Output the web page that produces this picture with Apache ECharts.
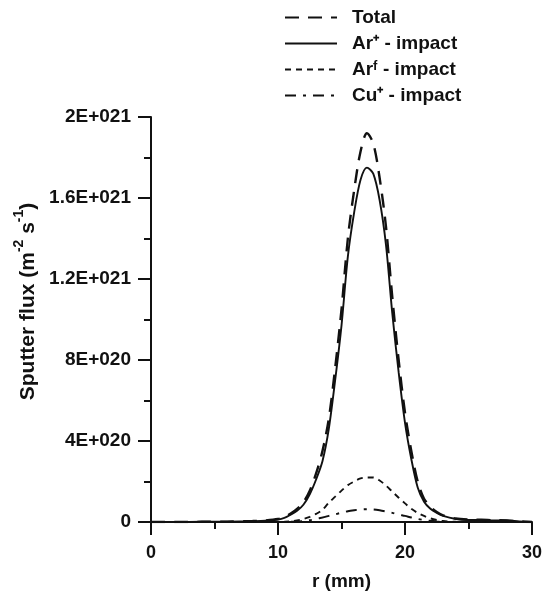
<!DOCTYPE html>
<html>
<head>
<meta charset="utf-8">
<script src="https://cdn.jsdelivr.net/npm/echarts@6/dist/echarts.min.js"></script>
<style>html,body{margin:0;padding:0;background:#fff;}#chart{width:546px;height:592px;}</style>
</head>
<body>
<div id="chart"></div>
<script>
// r positions (mm)
var rValues = [0,2,4,6,8,9,10,10.5,11,11.5,12,12.5,13,13.5,14,14.5,15,15.5,16,16.5,17,17.5,18,18.5,19,19.5,20,20.5,21,21.5,22,22.5,23,24,25,26,27,28,29,30];
// Sputter flux in units of 1E+020 m^-2 s^-1
var totalFlux = [0,0,0.01,0.02,0.05,0.08,0.15,0.25,0.42,0.65,0.98,1.55,2.4,3.5,5.1,7.6,10.5,14.0,16.4,18.3,19.2,18.7,17.0,14.6,11.1,8.0,5.4,3.5,2.0,1.15,0.75,0.5,0.33,0.17,0.12,0.11,0.09,0.08,0.03,0];
var arPlusFlux = [0,0,0.01,0.02,0.04,0.06,0.12,0.2,0.36,0.55,0.85,1.37,2.1,3.0,4.6,7.0,9.7,13.1,15.3,16.9,17.5,17.2,15.9,13.7,10.3,7.4,4.9,3.1,1.7,1.0,0.65,0.45,0.3,0.15,0.1,0.1,0.08,0.08,0.03,0];
var arFastFlux = [0,0,0,0,0,0,0,0.01,0.03,0.08,0.15,0.25,0.4,0.6,0.95,1.25,1.55,1.82,2.0,2.15,2.2,2.2,2.05,1.8,1.5,1.2,0.92,0.65,0.45,0.3,0.18,0.1,0.05,0.01,0,0,0,0,0,0];
var cuPlusFlux = [0,0,0,0,0,0,0,0,0.01,0.02,0.05,0.09,0.15,0.22,0.3,0.38,0.46,0.53,0.58,0.62,0.63,0.62,0.58,0.52,0.45,0.37,0.3,0.22,0.15,0.1,0.06,0.03,0.01,0,0,0,0,0,0,0];
var seriesNames = ['Total', 'Ar\u207A - impact', 'Ar\u1DA0 - impact', 'Cu\u207A - impact'];
var yTickValues = [0,4,8,12,16,20];
var yTickLabels = ['0','4E+020','8E+020','1.2E+021','1.6E+021','2E+021'];
var xTickValues = [0,10,20,30];
var xTickLabels = ['0','10','20','30'];

function pairs(ys){ return rValues.map(function(x,i){ return [x, ys[i]]; }); }

var font = 'Liberation Sans, Arial, sans-serif';
var chart = echarts.init(document.getElementById('chart'), null, {renderer:'canvas'});
var lineStyles = [
  {color:'#111', width:2.4, type:[14,9]},
  {color:'#111', width:1.9, type:'solid'},
  {color:'#111', width:1.9, type:[6,5]},
  {color:'#111', width:1.9, type:[11,7,3,7]}
];
var datas = [totalFlux, arPlusFlux, arFastFlux, cuPlusFlux];
var series = seriesNames.map(function(n,i){
  return {
    name:n, type:'line', data:pairs(datas[i]), symbol:'none', smooth:0.3,
    lineStyle:lineStyles[i], itemStyle:{color:'#111'}, z: 10 - i
  };
});
chart.setOption({
  animation:false,
  backgroundColor:'#fff',
  legend:{
    orient:'vertical', left:279, top:3, itemWidth:52, itemHeight:14, itemGap:7,
    data:seriesNames,
    itemStyle:{opacity:0},
    textStyle:{fontFamily:font, fontWeight:'bold', fontSize:19, color:'#111', padding:[0,0,0,10]}
  },
  grid:{left:151, right:14, top:117, bottom:70, containLabel:false, outerBoundsMode:'none'},
  xAxis:{
    type:'value', min:0, max:30, interval:10,
    name:'r (mm)', nameLocation:'middle', nameGap:50,
    nameTextStyle:{fontFamily:font, fontWeight:'bold', fontSize:19, color:'#111'},
    axisLine:{lineStyle:{color:'#111', width:2}},
    axisTick:{show:true, length:13, lineStyle:{color:'#111', width:2}},
    minorTick:{show:true, splitNumber:2, length:7, lineStyle:{color:'#111', width:2}},
    splitLine:{show:false},
    axisLabel:{fontFamily:font, fontWeight:'bold', fontSize:18, color:'#111', margin:22,
      formatter:function(v){ var i=xTickValues.indexOf(Math.round(v)); return i>=0?xTickLabels[i]:''; }}
  },
  yAxis:{
    type:'value', min:0, max:20, interval:4,
    name:'{n|Sputter flux (m}{s|-2}{n| s}{s|-1}{n|)}', nameLocation:'middle', nameGap:110, nameRotate:90,
    nameTextStyle:{fontFamily:font, fontWeight:'bold', fontSize:21, color:'#111', padding:[0,0,0,36],
      rich:{
        n:{fontFamily:font, fontWeight:'bold', fontSize:21, color:'#111', lineHeight:26, verticalAlign:'bottom'},
        s:{fontFamily:font, fontWeight:'bold', fontSize:14, color:'#111', lineHeight:26, verticalAlign:'top', padding:[0,0,6,0]}
      }},
    axisLine:{show:true, lineStyle:{color:'#111', width:2}},
    axisTick:{show:true, length:13, lineStyle:{color:'#111', width:2}},
    minorTick:{show:true, splitNumber:2, length:7, lineStyle:{color:'#111', width:2}},
    splitLine:{show:false},
    axisLabel:{fontFamily:font, fontWeight:'bold', fontSize:19, color:'#111', margin:20,
      formatter:function(v){ var i=yTickValues.indexOf(Math.round(v)); return i>=0?yTickLabels[i]:''; }}
  },
  series:series
});
</script>
</body>
</html>
